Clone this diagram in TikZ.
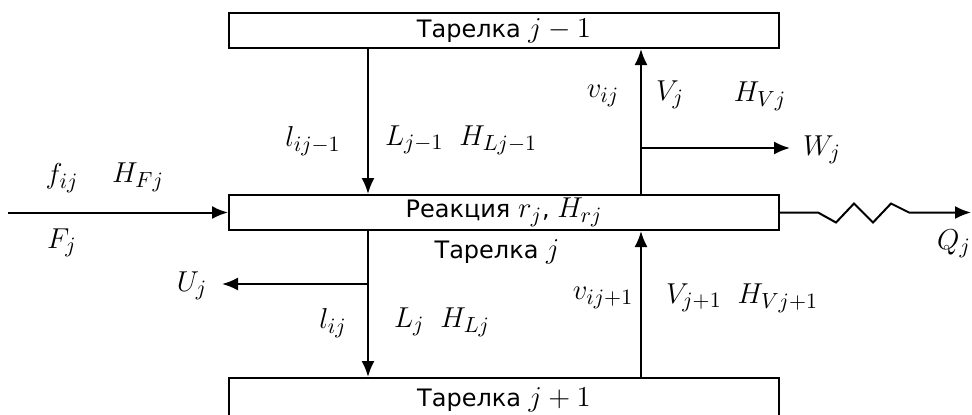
\documentclass[tikz,border=0pt]{standalone}
\usepackage{amsmath,amssymb}
\usepackage{fontspec}
\setmainfont{DejaVu Sans}
\DeclareMathSizes{12}{14}{10.5}{8}
\usetikzlibrary{arrows.meta,calc,positioning}

\begin{document}
\begin{tikzpicture}[x=0.5pt, y=-0.5pt, line width=1pt,
  every node/.style={font=\fontsize{12}{14}\selectfont},
  tray/.style={draw, minimum width=275pt, minimum height=17.5pt, inner sep=0pt},
  flow/.style={-{Latex[length=8pt,width=6.5pt]}}]
\useasboundingbox (0,0) rectangle (972,414);
% trays
\node[tray] (above) at (504,30.5) {Тарелка $j-1$};
\node[tray] (tray) at (504,212.5) {Реакция $r_j$, $H_{rj}$};
\node[tray, minimum height=22pt] (below) at (504,400) {Тарелка $j+1$};
\coordinate (lx) at (368,0);
\coordinate (rx) at (641,0);
% liquid and vapour
\draw[flow] (above.south -| lx) -- (tray.north -| lx);
\draw[flow] (tray.north -| rx) -- (above.south -| rx);
\draw[flow] (tray.south -| lx) -- (below.north -| lx);
\draw[flow] (below.north -| rx) -- (tray.south -| rx);
% side streams
\coordinate (wfork) at (641,148);
\coordinate (wend) at (790,148);
\draw[flow] (wfork) -- (wend);
\coordinate (ufork) at (368,284);
\coordinate (uend) at (222,284);
\draw[flow] (ufork) -- (uend);
% feed and heat
\coordinate (fin) at (8,212.5);
\draw[flow] (fin) -- (tray.west);
\coordinate (qout) at (971,212.5);
\draw[flow] (tray.east) -- ++(38,0) -- ++(18,10) -- ++(18,-19) -- ++(19,19) -- ++(18,-19) -- ++(18,9) -- (qout);
% labels
\node (fij) at (62,178) {$f_{ij}$};
\node (hf) at (138,177) {$H_{Fj}$};
\node (fj) at (62,243) {$F_j$};
\node (lup) at (313,141) {$l_{ij-1}$};
\node (Lup) at (461,140) {$L_{j-1}\;\; H_{Lj-1}$};
\node (vij) at (603,96) {$v_{ij}$};
\node (vj) at (670,95) {$V_j$};
\node (hv) at (760,96) {$H_{Vj}$};
\node (wj) at (822,150) {$W_j$};
\node (tj) at (497,252) {Тарелка $j$};
\node (uj) at (192,286) {$U_j$};
\node (ldn) at (333,323) {$l_{ij}$};
\node (Ldn) at (442,322) {$L_j\;\; H_{Lj}$};
\node (vdn) at (603,298) {$v_{ij+1}$};
\node (Vdn) at (742,298) {$V_{j+1}\;\; H_{Vj+1}$};
\node (qj) at (954,244) {$Q_j$};
\end{tikzpicture}
\end{document}
